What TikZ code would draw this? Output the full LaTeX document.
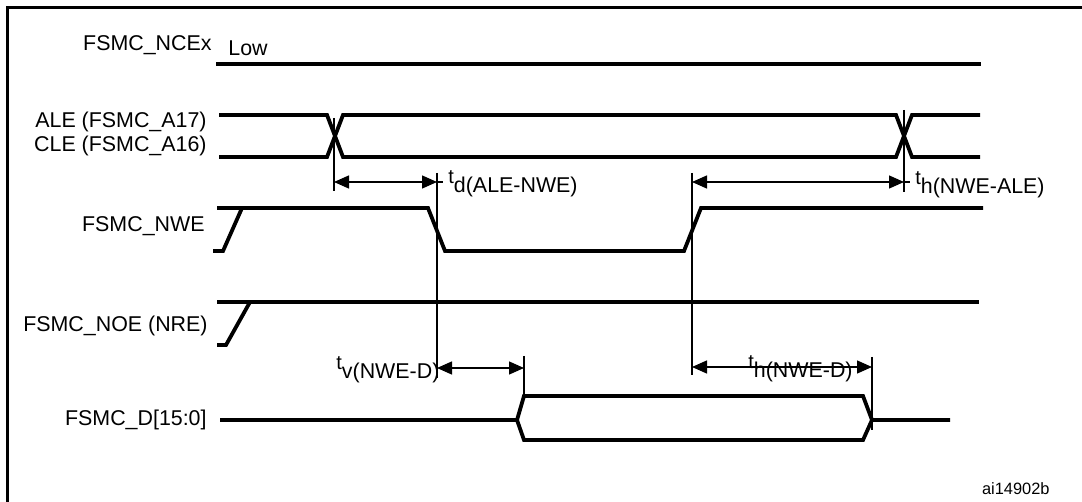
\documentclass[tikz,border=0pt]{standalone}
\usepackage{fontspec}
\setmainfont{Liberation Sans}
\usetikzlibrary{arrows.meta}
\newcommand{\tsym}[1]{{\fontsize{10}{12}\selectfont t}\raisebox{-4.3pt}{#1}}
\begin{document}
\begin{tikzpicture}[x=0.5pt,y=-0.5pt,
  sig/.style={line width=1.9pt, line join=miter},
  guide/.style={line width=0.7pt},
  dim/.style={line width=0.7pt, {Triangle[length=7.5pt,width=6.5pt]}-{Triangle[length=7.5pt,width=6.5pt]}},
  lbl/.style={font=\fontsize{10.7}{12.5}\selectfont, inner sep=0pt},
  tlbl/.style={lbl, anchor=base west}]
\useasboundingbox (0,0) rectangle (1082,502);
% frame
\draw[line width=1.1pt] (7.5,502) -- (7.5,7.5) -- (1082,7.5);

% signal labels
\node[lbl, anchor=base east] (ncex) at (212,51) {FSMC\_NCEx};
\node[lbl, anchor=base west] (low) at (228,56) {Low};
\node[lbl, anchor=base east] (ale) at (207,128) {ALE (FSMC\_A17)};
\node[lbl, anchor=base east] (cle) at (207,152) {CLE (FSMC\_A16)};
\node[lbl, anchor=base east] (nwe) at (205,232) {FSMC\_NWE};
\node[lbl, anchor=base east] (noe) at (208,332) {FSMC\_NOE (NRE)};
\node[lbl, anchor=base east] (dbus) at (207,425) {FSMC\_D[15:0]};
\node[font=\fontsize{8.2}{10}\selectfont, inner sep=0pt, anchor=base east] (fid) at (1050,494) {ai14902b};

% FSMC_NCEx
\draw[sig] (216,64) -- (981,64);
% ALE / CLE
\draw[sig] (219,115) -- (327,115) -- (343,157) -- (896,157) -- (912,115) -- (980,115);
\draw[sig] (219,157) -- (327,157) -- (343,115) -- (896,115) -- (912,157) -- (980,157);
% FSMC_NWE
\draw[sig] (213,251) -- (223,251) -- (242,208);
\draw[sig] (217,208) -- (428,208) -- (445,251) -- (684,251) -- (701,208) -- (983,208);
% FSMC_NOE
\draw[sig] (217,345) -- (226,345) -- (250,302);
\draw[sig] (217,302) -- (979,302);
% FSMC_D
\draw[sig] (220,420) -- (517,420) -- (524,396) -- (863,396) -- (872,420) -- (950,420);
\draw[sig] (517,420) -- (524,440) -- (863,440) -- (872,420);

% guide lines
\coordinate (g1t) at (334,118); \coordinate (g1b) at (334,191);
\coordinate (g2t) at (437,173); \coordinate (g2b) at (437,378);
\coordinate (g3t) at (692,173); \coordinate (g3b) at (692,375);
\coordinate (g4t) at (904,110); \coordinate (g4b) at (904,192);
\coordinate (g5t) at (524,356); \coordinate (g5b) at (524,396);
\coordinate (g6t) at (872,357); \coordinate (g6b) at (872,430);
\foreach \g in {1,...,6} \draw[guide] (g\g t) -- (g\g b);

% timing labels (drawn before arrows so tips lie on top)
\node[tlbl] (td) at (448,184) {\tsym{d(ALE-NWE)}};
\node[tlbl] (th1) at (915,185) {\tsym{h(NWE-ALE)}};
\node[tlbl] (tv) at (336,370) {\tsym{v(NWE-D)}};
\node[tlbl] (th2) at (748,369) {\tsym{h(NWE-D)}};

% dimension arrows
\coordinate (a1l) at (334,182); \coordinate (a1r) at (437,182); \coordinate (a1e) at (443,182);
\coordinate (a2l) at (692,182); \coordinate (a2r) at (904,182); \coordinate (a2e) at (910,182);
\coordinate (a3l) at (437,368); \coordinate (a3r) at (524,368);
\coordinate (a4l) at (692,367); \coordinate (a4r) at (872,367);
\draw[dim] (a1l) -- (a1r); \draw[guide] (a1r) -- (a1e);
\draw[dim] (a2l) -- (a2r); \draw[guide] (a2r) -- (a2e);
\draw[dim] (a3l) -- (a3r);
\draw[dim] (a4l) -- (a4r);
\end{tikzpicture}
\end{document}
